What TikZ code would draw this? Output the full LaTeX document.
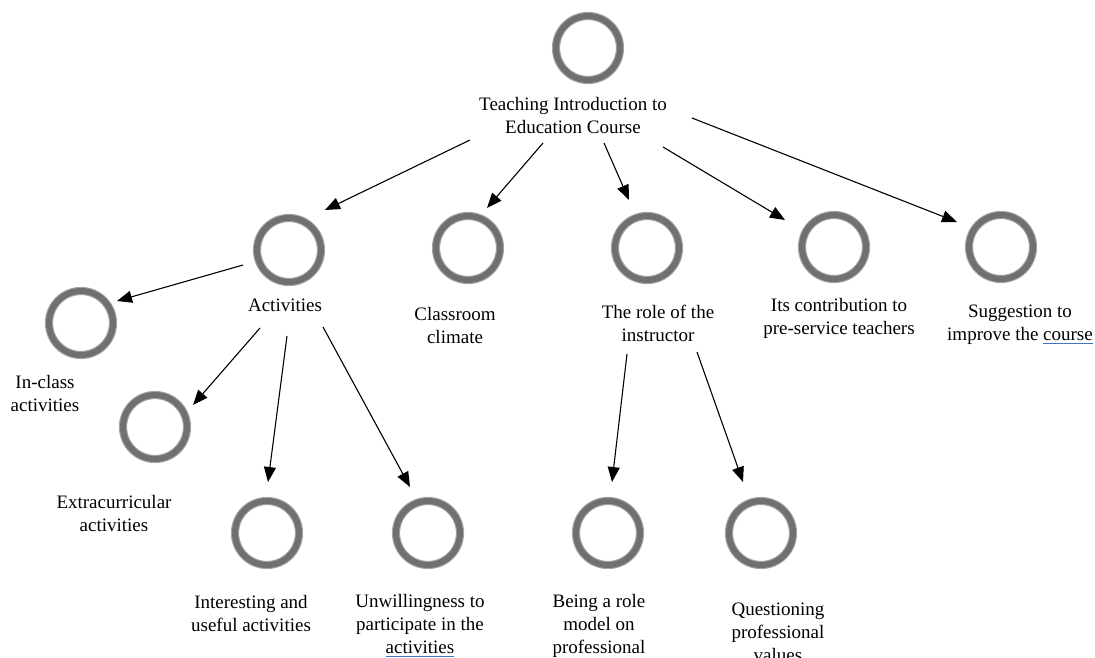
\documentclass[tikz,border=0pt]{standalone}
\usepackage{fontspec}
\setmainfont{Liberation Serif}
\usetikzlibrary{arrows.meta}
\definecolor{ringgray}{RGB}{112,112,112}
\definecolor{ringedge}{RGB}{165,165,165}
\definecolor{ulblue}{RGB}{68,114,196}
% blue proofing underline under a word
\newcommand{\blueul}[1]{\setbox0\hbox{#1}\rlap{\color{ulblue}\rule[-3.5pt]{\wd0}{1.3pt}}\box0}
\begin{document}
\begin{tikzpicture}[x=1pt,y=-1pt,
  ring/.style={circle,draw=ringedge,double=ringgray,line width=1.1pt,double distance=6pt,minimum size=64pt,inner sep=0pt},
  lbl/.style={align=center,inner sep=0pt,font=\fontsize{19}{23}\selectfont},
  arr/.style={-{Triangle[length=15pt,width=12pt]},line width=1.1pt,black}]
\useasboundingbox (0,0) rectangle (1095,658);

% theme circles
\node[ring] (c-top)   at (588,48)  {};
\node[ring] (c-act)   at (289,250) {};
\node[ring] (c-cls)   at (468,248) {};
\node[ring] (c-role)  at (647,248) {};
\node[ring] (c-contr) at (834,247) {};
\node[ring] (c-sugg)  at (1001,247) {};
\node[ring] (c-incl)  at (81,323)  {};
\node[ring] (c-extra) at (155,427) {};
\node[ring] (c-inter) at (267,533) {};
\node[ring] (c-unw)   at (428,533) {};
\node[ring] (c-being) at (608,533) {};
\node[ring] (c-quest) at (761,533) {};

% labels
\node[lbl] (l-top)   at (573,116) {Teaching Introduction to\\Education Course};
\node[lbl] (l-act)   at (285,305) {Activities};
\node[lbl] (l-cls)   at (455,325) {Classroom\\climate};
\node[lbl] (l-role)  at (658,323) {The role of the\\instructor};
\node[lbl] (l-contr) at (839,318) {Its contribution to\\pre-service teachers};
\node[lbl] (l-sugg)  at (1020,325) {Suggestion to\\improve the \blueul{course}};
\node[lbl] (l-incl)  at (45,393)  {In-class\\activities};
\node[lbl] (l-extra) at (114,513) {Extracurricular\\activities};
\node[lbl] (l-inter) at (251,613) {Interesting and\\useful activities};
\node[lbl] (l-unw)   at (420,626) {Unwillingness to\\participate in the\\\blueul{activities}};
\node[lbl] (l-being) at (599,626) {Being a role\\model on\\professional};
\node[lbl] (l-quest) at (778,632) {Questioning\\professional\\values};

% connector ends
\coordinate (top-a)   at (470,140);  \coordinate (act-in)   at (325,210);
\coordinate (top-b)   at (543,143);  \coordinate (cls-in)   at (487,208);
\coordinate (top-c)   at (604,143);  \coordinate (role-in)  at (629,200);
\coordinate (top-d)   at (663,147);  \coordinate (contr-in) at (785,220);
\coordinate (top-e)   at (692,118);  \coordinate (sugg-in)  at (957,222);
\coordinate (act-a)   at (243,265);  \coordinate (incl-in)  at (117,301);
\coordinate (act-b)   at (260,328);  \coordinate (extra-in) at (193,405);
\coordinate (act-c)   at (287,336);  \coordinate (inter-in) at (268,482);
\coordinate (act-d)   at (323,327);  \coordinate (unw-in)   at (410,487);
\coordinate (role-a)  at (627,354);  \coordinate (being-in) at (612,482);
\coordinate (role-b)  at (697,352);  \coordinate (quest-in) at (743,482);

% connectors
\draw[arr] (top-a) -- (act-in);
\draw[arr] (top-b) -- (cls-in);
\draw[arr] (top-c) -- (role-in);
\draw[arr] (top-d) -- (contr-in);
\draw[arr] (top-e) -- (sugg-in);
\draw[arr] (act-a) -- (incl-in);
\draw[arr] (act-b) -- (extra-in);
\draw[arr] (act-c) -- (inter-in);
\draw[arr] (act-d) -- (unw-in);
\draw[arr] (role-a) -- (being-in);
\draw[arr] (role-b) -- (quest-in);
\end{tikzpicture}
\end{document}
